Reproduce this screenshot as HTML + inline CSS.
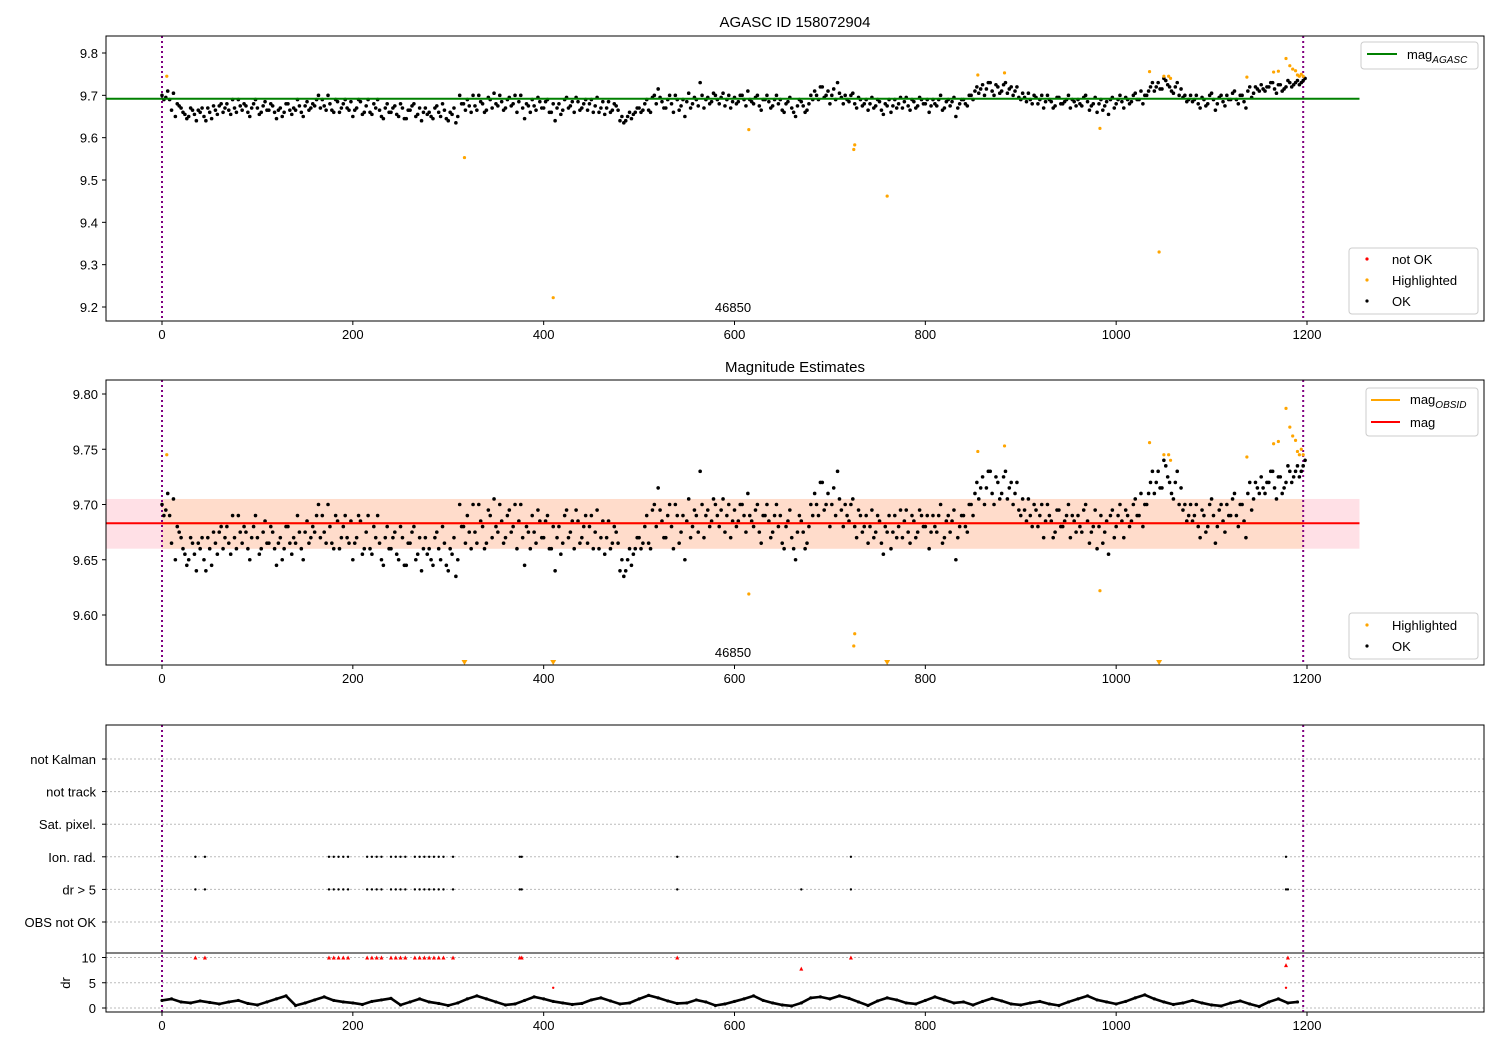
<!DOCTYPE html>
<html><head><meta charset="utf-8"><style>
body{margin:0;background:#fff}
svg{display:block;font-family:"Liberation Sans","DejaVu Sans",sans-serif}
</style></head><body>
<svg id="chart" width="1500" height="1050" viewBox="0 0 1500 1050" xmlns="http://www.w3.org/2000/svg"></svg>
<script>
// ===== data =====
const magStep = 4;
const mag = [
9.700,9.695,9.690,9.705,9.680,9.670,9.655,9.650,9.665,9.640,
9.660,9.650,9.670,9.645,9.665,9.675,9.660,9.680,9.655,9.670,
9.690,9.665,9.675,9.650,9.680,9.670,9.660,9.685,9.665,9.675,
9.645,9.670,9.660,9.680,9.655,9.665,9.675,9.650,9.685,9.670,
9.675,9.700,9.690,9.665,9.680,9.660,9.685,9.670,9.690,9.665,
9.650,9.670,9.685,9.660,9.690,9.655,9.670,9.665,9.645,9.680,
9.660,9.675,9.650,9.670,9.645,9.665,9.680,9.655,9.640,9.670,
9.660,9.645,9.675,9.650,9.665,9.640,9.655,9.635,9.700,9.680,
9.690,9.660,9.675,9.700,9.680,9.665,9.690,9.705,9.675,9.685,
9.670,9.695,9.680,9.660,9.700,9.645,9.675,9.690,9.665,9.685,
9.670,9.690,9.660,9.640,9.680,9.665,9.695,9.675,9.660,9.685,
9.670,9.690,9.680,9.660,9.695,9.670,9.655,9.685,9.665,9.675,
9.640,9.635,9.650,9.645,9.660,9.670,9.665,9.690,9.660,9.700,
9.715,9.685,9.670,9.700,9.660,9.690,9.675,9.650,9.705,9.680,
9.690,9.730,9.670,9.695,9.685,9.700,9.680,9.705,9.690,9.670,
9.695,9.685,9.700,9.675,9.690,9.680,9.700,9.665,9.690,9.685,
9.675,9.700,9.690,9.660,9.685,9.670,9.650,9.690,9.675,9.665,
9.700,9.710,9.690,9.720,9.700,9.680,9.715,9.730,9.695,9.700,
9.685,9.705,9.670,9.690,9.680,9.665,9.695,9.675,9.685,9.655,
9.675,9.660,9.690,9.680,9.670,9.695,9.665,9.685,9.675,9.690,
9.680,9.660,9.690,9.675,9.700,9.670,9.690,9.685,9.650,9.680,
9.690,9.675,9.700,9.710,9.705,9.725,9.715,9.730,9.700,9.720,
9.710,9.730,9.715,9.700,9.720,9.690,9.695,9.705,9.680,9.695,
9.690,9.670,9.700,9.685,9.675,9.695,9.680,9.690,9.670,9.685,
9.690,9.675,9.700,9.665,9.680,9.660,9.690,9.675,9.655,9.695,
9.680,9.700,9.670,9.690,9.685,9.705,9.690,9.680,9.700,9.720,
9.710,9.730,9.715,9.735,9.720,9.705,9.730,9.715,9.700,9.690,
9.685,9.700,9.670,9.690,9.680,9.705,9.665,9.695,9.685,9.700,
9.690,9.710,9.680,9.700,9.670,9.720,9.705,9.715,9.725,9.710,
9.720,9.730,9.705,9.725,9.715,9.735,9.720,9.730,9.725,9.735];
// second set of OK points (indices offset by 2)
const magOffset = 2;
const mag2 = [
9.690,9.710,9.665,9.650,9.675,9.660,9.645,9.670,9.655,9.665,
9.670,9.640,9.660,9.675,9.655,9.680,9.670,9.665,9.690,9.660,
9.675,9.680,9.660,9.670,9.690,9.655,9.675,9.665,9.680,9.660,
9.665,9.650,9.680,9.665,9.670,9.690,9.660,9.675,9.665,9.680,
9.690,9.670,9.675,9.700,9.665,9.690,9.660,9.680,9.670,9.685,
9.665,9.690,9.655,9.675,9.660,9.680,9.690,9.650,9.670,9.660,
9.670,9.655,9.680,9.645,9.665,9.675,9.650,9.670,9.660,9.655,
9.650,9.670,9.660,9.680,9.645,9.660,9.670,9.650,9.680,9.665,
9.675,9.700,9.665,9.685,9.660,9.695,9.670,9.680,9.700,9.665,
9.690,9.675,9.700,9.685,9.670,9.680,9.660,9.675,9.695,9.670,
9.685,9.660,9.680,9.670,9.655,9.690,9.670,9.685,9.695,9.665,
9.680,9.665,9.690,9.675,9.660,9.685,9.670,9.660,9.680,9.665,
9.650,9.640,9.660,9.655,9.670,9.660,9.680,9.665,9.695,9.680,
9.695,9.670,9.690,9.680,9.700,9.665,9.690,9.685,9.670,9.695,
9.675,9.700,9.690,9.680,9.705,9.690,9.695,9.675,9.700,9.685,
9.680,9.700,9.690,9.710,9.685,9.695,9.675,9.690,9.700,9.670,
9.690,9.680,9.665,9.680,9.695,9.660,9.675,9.685,9.660,9.680,
9.690,9.700,9.720,9.695,9.710,9.700,9.690,9.705,9.680,9.690,
9.700,9.680,9.695,9.675,9.690,9.680,9.670,9.690,9.665,9.680,
9.690,9.675,9.670,9.695,9.685,9.675,9.690,9.670,9.695,9.680,
9.690,9.675,9.680,9.690,9.665,9.685,9.675,9.695,9.670,9.690,
9.680,9.700,9.690,9.720,9.715,9.700,9.730,9.710,9.725,9.705,
9.725,9.705,9.720,9.710,9.695,9.705,9.685,9.690,9.700,9.680,
9.700,9.685,9.690,9.670,9.695,9.680,9.685,9.700,9.690,9.675,
9.680,9.695,9.685,9.675,9.695,9.680,9.665,9.685,9.690,9.670,
9.690,9.685,9.695,9.680,9.700,9.690,9.710,9.700,9.710,9.730,
9.720,9.715,9.740,9.725,9.710,9.720,9.700,9.695,9.685,9.700,
9.690,9.680,9.695,9.675,9.700,9.690,9.680,9.700,9.675,9.690,
9.705,9.690,9.700,9.685,9.710,9.695,9.720,9.710,9.715,9.720,
9.730,9.715,9.725,9.710,9.720,9.730,9.725,9.735,9.730,9.740];
const hiX = [5,317,410,615,725,726,760,855,883,983,1035,1045,1050,1055,1057,1137,1165,1170,1178,1182,1185,1188,1190,1192,1194,1196];
const hiMag = [9.745,9.553,9.222,9.619,9.572,9.583,9.462,9.748,9.753,9.622,9.756,9.330,9.745,9.745,9.740,9.743,9.755,9.757,9.787,9.770,9.762,9.758,9.748,9.745,9.750,9.745];
const magAgasc = 9.692;
const magMean = 9.683;
const magLo = 9.660, magHi = 9.705;
const obsStart = 0, obsEnd = 1196, lineEnd = 1255;
const ionX = [35,45,175,180,185,190,195,215,220,225,230,240,245,250,255,265,270,275,280,285,290,295,305,375,377,540,722,1178];
const drBigX = [35,45,175,180,185,190,195,215,220,225,230,240,245,250,255,265,270,275,280,285,290,295,305,375,377,540,670,722,1178,1180];
const drBigVal = [10,10,10,10,10,10,10,10,10,10,10,10,10,10,10,10,10,10,10,10,10,10,10,10,10,10,7.8,10,8.5,10];
const drRedExtraX = [410,1178];
const drRedExtraVal = [4,4];
const drStep = 10;
const dr = [
1.5,1.8,1.2,1.0,1.4,1.1,0.8,1.2,1.5,0.9,
0.6,1.2,1.8,2.4,0.5,1.0,1.6,2.2,1.5,1.2,
1.0,0.7,1.3,1.6,1.9,0.6,1.2,1.8,1.2,0.9,
0.5,1.0,1.8,2.4,1.8,1.2,0.6,0.8,1.5,2.2,
1.8,1.3,1.0,0.7,0.9,1.6,2.0,1.4,0.8,1.0,
1.8,2.5,2.0,1.4,0.9,1.0,1.6,1.2,0.5,0.8,
1.3,1.8,2.4,1.5,1.0,0.6,0.4,1.0,2.0,2.2,
1.8,2.4,1.9,1.2,0.5,1.4,2.0,1.6,1.0,0.8,
1.5,2.2,1.6,1.0,1.2,0.6,1.3,1.9,1.4,0.8,
0.6,1.0,1.3,0.8,0.5,1.2,1.8,2.4,1.6,1.2,
0.8,1.3,2.0,2.6,1.8,1.2,0.7,1.0,1.5,1.0,
0.6,0.4,1.0,1.4,0.8,0.3,1.2,1.8,1.0,1.2];
const xTicks = [0,200,400,600,800,1000,1200];
const p1Ticks = [9.2,9.3,9.4,9.5,9.6,9.7,9.8];
const p2Ticks = [9.60,9.65,9.70,9.75,9.80];
const flagLabels = ["not Kalman","not track","Sat. pixel.","Ion. rad.","dr > 5","OBS not OK"];
const drTicks = [0,5,10];

// ===== helpers =====
const NS = "http://www.w3.org/2000/svg";
const svg = document.getElementById('chart');
function mk(tag, attrs, parent){const e=document.createElementNS(NS,tag);for(const k in attrs)e.setAttribute(k,attrs[k]);(parent||svg).appendChild(e);return e;}
const X0=106, X1=1484;
const xs = v => 162 + (v-0)*(1307-162)/1200;
const y1 = v => 307 + (9.2-v)*(307-53)/0.6;
const y2 = v => 615 + (9.60-v)*(615-394)/0.20;
const yFlag = i => 759 + i*32.6;
const yDr = v => 1008 - v*5.05;

function frame(y0,y1_,name){const r=mk('rect',{x:X0,y:y0,width:X1-X0,height:y1_-y0,fill:'none',stroke:'#000','stroke-width':1});}
function xAxis(yb,name){const g=mk('g',{});
 xTicks.forEach(t=>{mk('line',{x1:xs(t),x2:xs(t),y1:yb,y2:yb+4,stroke:'#000'},g);const tx=mk('text',{x:xs(t),y:yb+18,'text-anchor':'middle','font-size':13},g);tx.textContent=t;});}
function vlines(ya,yb){[obsStart,obsEnd].forEach(v=>{const l=mk('line',{x1:xs(v),x2:xs(v),y1:ya,y2:yb,stroke:'#800080','stroke-width':2,'stroke-dasharray':'2,3'});});}
function txt(x,y,s,attrs,name){const t=mk('text',Object.assign({x:x,y:y,'font-size':13},attrs||{}));t.textContent=s;return t;}
function okDots(g,yf){mag.forEach((m,i)=>{mk('circle',{cx:xs(i*magStep),cy:yf(m),r:1.8,fill:'#000'},g);});mag2.forEach((m,i)=>{mk('circle',{cx:xs(i*magStep+magOffset),cy:yf(m),r:1.8,fill:'#000'},g);});}

// ===== Panel 1 =====
txt(795,27,"AGASC ID 158072904",{'text-anchor':'middle','font-size':15},'panel1-title');
vlines(36,321);
const g1=mk('g',{});
okDots(g1,y1);
const gl=mk('line',{x1:X0,x2:xs(lineEnd),y1:y1(magAgasc),y2:y1(magAgasc),stroke:'green','stroke-width':2});

const gh1=mk('g',{});
hiX.forEach((x,i)=>{mk('circle',{cx:xs(x),cy:y1(hiMag[i]),r:1.6,fill:'orange'},gh1);});
txt(733,312,"46850",{'text-anchor':'middle'},'obsid-label-1');
frame(36,321,'panel1-frame');
xAxis(321,'panel1-x-axis');
p1Ticks.forEach(t=>{mk('line',{x1:X0-4,x2:X0,y1:y1(t),y2:y1(t),stroke:'#000'});txt(X0-8,y1(t)+5,t.toFixed(1),{'text-anchor':'end'},'panel1-y-tick');});
let lg=mk('g',{});
mk('rect',{x:1361,y:42,width:117,height:27,rx:3,fill:'#fff',stroke:'#ccc'},lg);
mk('line',{x1:1367,x2:1397,y1:54,y2:54,stroke:'green','stroke-width':2},lg);
let t=mk('text',{x:1407,y:59,'font-size':13},lg);t.innerHTML='mag<tspan font-size="10" font-style="italic" dy="4">AGASC</tspan>';
lg=mk('g',{});
mk('rect',{x:1349,y:248,width:129,height:66,rx:3,fill:'#fff',stroke:'#ccc'},lg);
[['red','not OK',259],['orange','Highlighted',280],['#000','OK',301]].forEach(a=>{mk('circle',{cx:1367,cy:a[2],r:1.6,fill:a[0]},lg);const tt=mk('text',{x:1392,y:a[2]+5,'font-size':13},lg);tt.textContent=a[1];});

// ===== Panel 2 =====
txt(795,372,"Magnitude Estimates",{'text-anchor':'middle','font-size':15},'panel2-title');
const band=mk('rect',{x:X0,y:y2(magHi),width:xs(lineEnd)-X0,height:y2(magLo)-y2(magHi),fill:'#ffe0e6'});
const band2=mk('rect',{x:xs(obsStart),y:y2(magHi),width:xs(obsEnd)-xs(obsStart),height:y2(magLo)-y2(magHi),fill:'#ffdccb'});
vlines(380,665);
const g2=mk('g',{});
okDots(g2,y2);
const ol=mk('line',{x1:xs(obsStart),x2:xs(obsEnd),y1:y2(magMean),y2:y2(magMean),stroke:'orange','stroke-width':2});
const rl=mk('line',{x1:X0,x2:xs(lineEnd),y1:y2(magMean),y2:y2(magMean),stroke:'red','stroke-width':2});
const gh2=mk('g',{});
const p2min=9.555;
hiX.forEach((x,i)=>{if(hiMag[i]>=p2min){mk('circle',{cx:xs(x),cy:y2(hiMag[i]),r:1.6,fill:'orange'},gh2);}else{const cx=xs(x),cy=663;mk('polygon',{points:`${cx-3},${cy-3} ${cx+3},${cy-3} ${cx},${cy+2}`,fill:'orange'},gh2);}});
txt(733,657,"46850",{'text-anchor':'middle'},'obsid-label-2');
frame(380,665,'panel2-frame');
xAxis(665,'panel2-x-axis');
p2Ticks.forEach(t=>{mk('line',{x1:X0-4,x2:X0,y1:y2(t),y2:y2(t),stroke:'#000'});txt(X0-8,y2(t)+5,t.toFixed(2),{'text-anchor':'end'},'panel2-y-tick');});
lg=mk('g',{});
mk('rect',{x:1366,y:388,width:112,height:48,rx:3,fill:'#fff',stroke:'#ccc'},lg);
mk('line',{x1:1371,x2:1400,y1:400,y2:400,stroke:'orange','stroke-width':2},lg);
t=mk('text',{x:1410,y:404,'font-size':13},lg);t.innerHTML='mag<tspan font-size="10" font-style="italic" dy="4">OBSID</tspan>';
mk('line',{x1:1371,x2:1400,y1:422,y2:422,stroke:'red','stroke-width':2},lg);
t=mk('text',{x:1410,y:427,'font-size':13},lg);t.textContent='mag';
lg=mk('g',{});
mk('rect',{x:1349,y:613,width:129,height:46,rx:3,fill:'#fff',stroke:'#ccc'},lg);
[['orange','Highlighted',625],['#000','OK',646]].forEach(a=>{mk('circle',{cx:1367,cy:a[2],r:1.6,fill:a[0]},lg);const tt=mk('text',{x:1392,y:a[2]+5,'font-size':13},lg);tt.textContent=a[1];});

// ===== Panel 3 (flags) =====
flagLabels.forEach((s,i)=>{const y=yFlag(i);const gl2=mk('line',{x1:X0,x2:X1,y1:y,y2:y,stroke:'#bbb','stroke-dasharray':'2,2'});mk('line',{x1:X0-4,x2:X0,y1:y,y2:y,stroke:'#000'});txt(X0-10,y+5,s,{'text-anchor':'end'},'flag-label');});
drTicks.forEach(v=>{const l=mk('line',{x1:X0,x2:X1,y1:yDr(v),y2:yDr(v),stroke:'#bbb','stroke-dasharray':'2,2'});mk('line',{x1:X0-4,x2:X0,y1:yDr(v),y2:yDr(v),stroke:'#000'});txt(X0-10,yDr(v)+5,String(v),{'text-anchor':'end'},'dr-tick');});
vlines(725,1012);
const gf=mk('g',{});
ionX.forEach(x=>mk('circle',{cx:xs(x),cy:yFlag(3),r:1.2,fill:'#000'},gf));
drBigX.forEach(x=>mk('circle',{cx:xs(x),cy:yFlag(4),r:1.2,fill:'#000'},gf));
const gd=mk('g',{});
const pts=dr.map((v,i)=>xs(i*drStep)+','+yDr(v)).join(' ');
mk('polyline',{points:pts,fill:'none',stroke:'#000','stroke-width':2.6},gd);
dr.forEach((v,i)=>mk('circle',{cx:xs(i*drStep),cy:yDr(v),r:1.6,fill:'#000'},gd));
const gr=mk('g',{});
drBigX.forEach((x,i)=>{const cx=xs(x),cy=yDr(drBigVal[i]);mk('polygon',{points:`${cx-2},${cy+2} ${cx+2},${cy+2} ${cx},${cy-2}`,fill:'red'},gr);});
drRedExtraX.forEach((x,i)=>mk('circle',{cx:xs(x),cy:yDr(drRedExtraVal[i]),r:1.2,fill:'red'},gr));
const sep=mk('line',{x1:X0,x2:X1,y1:953,y2:953,stroke:'#000','stroke-width':1});
frame(725,1012,'panel3-frame');
xAxis(1012,'panel3-x-axis');
txt(70,983,"dr",{'text-anchor':'middle',transform:'rotate(-90 70 983)'},'dr-axis-title');
</script>
</body></html>
